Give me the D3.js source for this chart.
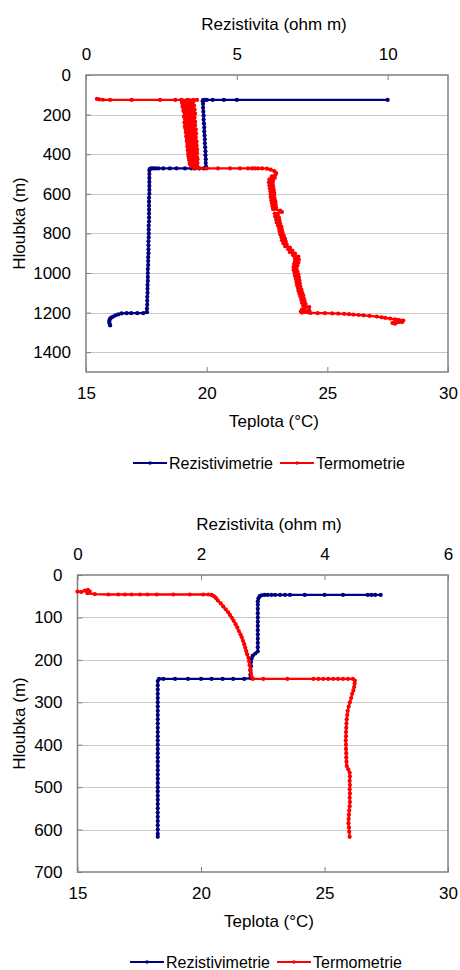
<!DOCTYPE html>
<html><head><meta charset="utf-8">
<script src="https://cdn.jsdelivr.net/npm/d3@7/dist/d3.min.js"></script>
<style>
body{margin:0;background:#fff;}
svg{display:block;}
text{font-family:"Liberation Sans",Arial,sans-serif;fill:#000;}
</style>
</head><body>
<svg id="c" width="460" height="970"></svg>
<script>
// ---------- DATA ----------
const seriesNames = ["Rezistivimetrie", "Termometrie"];
const titleTop = "Rezistivita (ohm m)";
const titleBottom = "Teplota (°C)";
const titleLeft = "Hloubka (m)";

// Chart 1 (upper)
const c1ResTicks = [0, 5, 10];
const c1TempTicks = [15, 20, 25, 30];
const c1DepthTicks = [0, 200, 400, 600, 800, 1000, 1200, 1400];
// [resistivity (ohm m), depth (m)]
const res1 = [[10.0,126],[5.0,126],[4.57,126],[4.2,126],[4.0,126],[3.92,126],[3.88,127],[3.87,132],[3.88,145],[3.88,165],[3.89,185],[3.9,205],[3.9,225],[3.91,245],[3.92,265],[3.92,285],[3.93,305],[3.94,325],[3.94,345],[3.95,365],[3.96,385],[3.96,405],[3.97,425],[3.97,445],[3.98,462],[3.98,470],[3.9,472],[3.75,472],[3.6,472],[3.5,472],[3.28,472],[3.0,472],[2.78,472],[2.56,472],[2.4,472],[2.3,472],[2.23,472],[2.16,472],[2.12,474],[2.1,482],[2.1,500],[2.1,520],[2.1,540],[2.1,560],[2.1,580],[2.1,600],[2.09,620],[2.09,640],[2.09,660],[2.09,680],[2.09,700],[2.09,720],[2.09,740],[2.08,760],[2.08,780],[2.08,800],[2.08,820],[2.07,840],[2.07,860],[2.07,880],[2.07,900],[2.06,920],[2.06,940],[2.06,960],[2.05,980],[2.05,1000],[2.05,1020],[2.05,1040],[2.04,1060],[2.04,1080],[2.04,1100],[2.03,1120],[2.03,1140],[2.03,1160],[2.02,1180],[2.02,1198],[1.9,1203],[1.7,1203],[1.5,1203],[1.35,1203],[1.18,1204],[1.07,1209],[0.98,1214],[0.9,1220],[0.84,1225],[0.8,1230],[0.78,1238],[0.77,1246],[0.78,1255],[0.8,1265]];
// [temperature (°C), depth (m)]
const temp1 = [[15.45,121],[15.55,123],[15.7,125],[16.0,126],[16.89,126],[18.07,126],[18.7,126],[18.95,126],[19.2,126],[19.45,126],[19.6,126],[19.3,128],[19.05,130],[19.45,135],[18.98,140],[19.4,145],[19.02,150],[19.48,155],[19.0,160],[19.42,165],[19.05,170],[19.5,175],[19.04,180],[19.45,185],[19.08,190],[19.52,195],[19.1,200],[19.47,205],[19.06,210],[19.5,215],[19.1,220],[19.45,225],[19.12,230],[19.52,235],[19.08,240],[19.5,245],[19.12,250],[19.52,255],[19.1,260],[19.47,265],[19.12,270],[19.55,275],[19.15,280],[19.5,285],[19.14,290],[19.56,295],[19.18,300],[19.52,305],[19.15,310],[19.55,315],[19.2,320],[19.52,325],[19.18,330],[19.58,335],[19.2,340],[19.55,345],[19.22,350],[19.58,355],[19.2,360],[19.56,365],[19.24,370],[19.6,375],[19.22,380],[19.58,385],[19.25,390],[19.6,395],[19.24,400],[19.55,405],[19.25,410],[19.6,415],[19.27,420],[19.62,425],[19.28,430],[19.58,435],[19.3,440],[19.62,445],[19.3,450],[19.6,455],[19.35,460],[19.62,465],[19.45,470],[19.7,472],[20.0,472],[20.47,472],[20.97,472],[21.38,472],[21.71,472],[21.88,472],[22.0,472],[22.13,472],[22.3,472],[22.5,473],[22.65,478],[22.8,485],[22.88,495],[22.85,505],[22.7,512],[22.82,520],[22.6,527],[22.75,535],[22.58,542],[22.74,550],[22.6,557],[22.76,565],[22.62,572],[22.78,580],[22.64,587],[22.8,595],[22.65,602],[22.8,610],[22.66,617],[22.82,625],[22.68,632],[22.85,640],[22.7,647],[22.86,655],[22.72,662],[22.88,670],[22.75,677],[23.05,685],[23.12,692],[22.82,700],[22.95,707],[22.84,715],[23.0,722],[22.88,730],[23.02,737],[22.9,745],[23.05,752],[22.95,760],[23.1,767],[23.0,775],[23.12,782],[23.02,790],[23.15,797],[23.05,805],[23.2,812],[23.1,820],[23.25,827],[23.12,835],[23.28,842],[23.18,850],[23.32,857],[23.25,865],[23.45,872],[23.38,880],[23.55,887],[23.45,895],[23.66,902],[23.58,910],[23.8,917],[23.66,925],[23.82,932],[23.66,940],[23.8,947],[23.62,955],[23.76,962],[23.6,970],[23.72,977],[23.6,985],[23.76,992],[23.64,1000],[23.8,1007],[23.66,1015],[23.82,1022],[23.7,1030],[23.84,1037],[23.72,1045],[23.86,1052],[23.74,1060],[23.88,1067],[23.78,1075],[23.92,1082],[23.8,1090],[23.95,1097],[23.84,1105],[24.0,1112],[23.88,1120],[24.02,1127],[23.92,1135],[24.06,1142],[23.95,1150],[24.1,1157],[24.0,1165],[24.25,1172],[24.05,1178],[23.95,1185],[24.25,1190],[23.9,1195],[24.2,1198],[23.95,1200],[24.3,1202],[24.6,1203],[24.9,1203],[25.2,1204],[25.45,1205],[25.7,1206],[25.9,1208],[26.08,1210],[26.3,1212],[26.5,1214],[26.75,1217],[27.05,1220],[27.25,1224],[27.4,1227],[27.6,1230],[27.8,1234],[27.94,1237],[28.05,1240],[27.9,1245],[27.7,1252],[27.8,1256],[28.1,1248],[28.15,1240]];

// Chart 2 (lower)
const c2ResTicks = [0, 2, 4, 6];
const c2TempTicks = [15, 20, 25, 30];
const c2DepthTicks = [0, 100, 200, 300, 400, 500, 600, 700];
const res2 = [[4.91,47],[4.82,47],[4.76,47],[4.70,47],[4.3,47],[4.0,47],[3.68,47],[3.44,47],[3.36,47],[3.28,47],[3.2,47],[3.14,47],[3.08,47],[3.03,47],[2.98,48],[2.95,50],[2.93,55],[2.92,62],[2.92,70],[2.92,80],[2.92,90],[2.92,100],[2.92,110],[2.92,120],[2.92,130],[2.92,140],[2.92,150],[2.92,160],[2.92,170],[2.92,180],[2.88,185],[2.84,190],[2.82,196],[2.81,205],[2.81,215],[2.8,225],[2.8,235],[2.8,243],[2.7,245],[2.52,245],[2.35,245],[2.17,245],[2.0,245],[1.79,245],[1.58,245],[1.39,245],[1.32,245],[1.3,250],[1.3,260],[1.3,270],[1.3,280],[1.3,290],[1.3,300],[1.3,310],[1.3,320],[1.3,330],[1.3,340],[1.3,350],[1.3,360],[1.3,370],[1.3,380],[1.3,390],[1.3,400],[1.3,410],[1.3,420],[1.3,430],[1.3,440],[1.3,450],[1.3,460],[1.3,470],[1.3,480],[1.3,490],[1.3,500],[1.3,510],[1.3,520],[1.3,530],[1.3,540],[1.3,550],[1.3,560],[1.3,570],[1.3,580],[1.3,590],[1.3,600],[1.3,610],[1.3,617]];
const temp2 = [[15.0,39],[15.15,40],[15.3,37],[15.42,35],[15.5,39],[15.4,43],[15.7,45],[16.25,46],[16.65,46],[16.92,46],[17.19,46],[17.53,46],[17.83,46],[18.21,46],[18.88,46],[19.55,46],[20.09,46],[20.3,46],[20.43,47],[20.52,50],[20.6,54],[20.68,60],[20.8,67],[20.9,74],[21.0,81],[21.1,88],[21.17,94],[21.25,101],[21.32,108],[21.4,116],[21.47,124],[21.53,132],[21.6,140],[21.65,147],[21.7,155],[21.75,163],[21.79,171],[21.83,179],[21.87,187],[21.92,195],[21.95,204],[21.97,213],[22.0,222],[22.02,231],[22.05,240],[22.1,245],[22.52,245],[23.5,245],[24.55,245],[24.75,245],[24.95,245],[25.15,245],[25.35,245],[25.55,245],[25.75,245],[25.95,245],[26.15,245],[26.23,249],[26.22,256],[26.2,264],[26.17,272],[26.12,280],[26.08,290],[26.03,300],[25.98,310],[25.94,320],[25.92,330],[25.9,340],[25.89,350],[25.88,360],[25.87,370],[25.87,380],[25.86,390],[25.87,400],[25.87,410],[25.88,420],[25.88,430],[25.89,440],[25.9,450],[25.96,458],[26.02,466],[26.03,475],[26.02,485],[26.03,495],[26.02,505],[26.03,515],[26.02,525],[26.03,535],[26.02,545],[26.0,555],[25.99,565],[25.98,575],[25.97,585],[25.99,595],[26.0,605],[26.02,617]];

// ---------- DRAWING ----------
const BLUE = "#000080", RED = "#ff0000", FRAME = "#808080", GRID = "#c8c8c8";
const svg = d3.select("#c");

function styleAxis(sel, fs) {
  sel.select(".domain").remove();
  sel.selectAll(".tick line").attr("stroke", FRAME).attr("stroke-width", 1);
  sel.selectAll(".tick text").attr("font-size", fs).attr("fill", "#000")
     .attr("font-family", '"Liberation Sans", Arial, sans-serif');
}

function drawChart(o) {
  const fmt = d => String(d);
  const xT = d3.scaleLinear().domain([o.tempTicks[0], o.tempTicks[o.tempTicks.length-1]]).range([o.left, o.right]);
  const xR = d3.scaleLinear().domain([o.resTicks[0], o.resMax]).range([o.left, o.right]);
  const y = d3.scaleLinear().domain([0, o.depthMax]).range([o.top, o.bottom]);
  const g = svg.append("g");

  // gridlines
  g.append("g").selectAll("line")
    .data(o.depthTicks.filter(d => d > 0 && d < o.depthMax))
    .join("line")
    .attr("x1", o.left).attr("x2", o.right)
    .attr("y1", d => Math.round(y(d)) + 0.5).attr("y2", d => Math.round(y(d)) + 0.5)
    .attr("stroke", GRID).attr("stroke-width", 1);

  g.append("g").attr("transform", `translate(${o.left},0)`)
    .call(d3.axisLeft(y).tickValues(o.depthTicks).tickFormat(fmt).tickSizeInner(-5).tickSizeOuter(0).tickPadding(15))
    .call(s => styleAxis(s, 17));
  g.append("g").attr("transform", `translate(0,${o.bottom})`)
    .call(d3.axisBottom(xT).tickValues(o.tempTicks).tickFormat(fmt).tickSizeInner(-5).tickSizeOuter(0).tickPadding(15))
    .call(s => styleAxis(s, 17));
  g.append("g").attr("transform", `translate(0,${o.top})`)
    .call(d3.axisTop(xR).tickValues(o.resTicks).tickFormat(fmt).tickSizeInner(-5).tickSizeOuter(0).tickPadding(15))
    .call(s => styleAxis(s, 17));

  // frame
  g.append("rect").attr("x", o.left).attr("y", o.top)
    .attr("width", o.right - o.left).attr("height", o.bottom - o.top)
    .attr("fill", "none").attr("stroke", FRAME).attr("stroke-width", 1.5);

  // titles
  g.append("text").attr("x", o.titleX).attr("y", o.top - 45).attr("text-anchor", "middle")
    .attr("font-size", 17).text(titleTop);
  g.append("text").attr("x", o.titleX).attr("y", o.bottom + 55).attr("text-anchor", "middle")
    .attr("font-size", 17).text(titleBottom);
  g.append("text").attr("transform", `translate(25,${(o.top + o.bottom) / 2}) rotate(-90)`)
    .attr("text-anchor", "middle").attr("font-size", 17).text(titleLeft);

  // series
  const series = [
    {data: o.res, sx: xR, color: BLUE},
    {data: o.temp, sx: xT, color: RED}
  ];
  series.forEach(s => {
    const line = d3.line().x(d => s.sx(d[0])).y(d => y(d[1]));
    g.append("path").datum(s.data).attr("d", line)
      .attr("fill", "none").attr("stroke", s.color).attr("stroke-width", 2.3)
      .attr("stroke-linejoin", "round").attr("stroke-linecap", "round");
    g.append("g").selectAll("circle").data(s.data).join("circle")
      .attr("cx", d => s.sx(d[0])).attr("cy", d => y(d[1])).attr("r", 2.1)
      .attr("fill", s.color);
  });

  // legend
  const lg = g.append("g").attr("transform", `translate(0,${o.legendY})`);
  const items = [
    {name: seriesNames[0], color: BLUE, x: o.legendX[0]},
    {name: seriesNames[1], color: RED, x: o.legendX[1]}
  ];
  items.forEach(it => {
    lg.append("line").attr("x1", it.x).attr("x2", it.x + 34).attr("y1", 0).attr("y2", 0)
      .attr("stroke", it.color).attr("stroke-width", 2);
    lg.append("circle").attr("cx", it.x + 17).attr("cy", 0).attr("r", 1.8).attr("fill", it.color);
    lg.append("text").attr("x", it.x + 36).attr("y", 5.5).attr("font-size", 16).text(it.name);
  });
}

drawChart({
  left: 86, right: 448, top: 75, bottom: 372,
  depthMax: 1500, depthTicks: c1DepthTicks,
  resTicks: c1ResTicks, resMax: 12, tempTicks: c1TempTicks,
  res: res1, temp: temp1, titleX: 274,
  legendY: 463, legendX: [133, 280]
});
drawChart({
  left: 77.5, right: 448, top: 575, bottom: 872,
  depthMax: 700, depthTicks: c2DepthTicks,
  resTicks: c2ResTicks, resMax: 6, tempTicks: c2TempTicks,
  res: res2, temp: temp2, titleX: 269,
  legendY: 962, legendX: [130, 277]
});
</script>
</body></html>
